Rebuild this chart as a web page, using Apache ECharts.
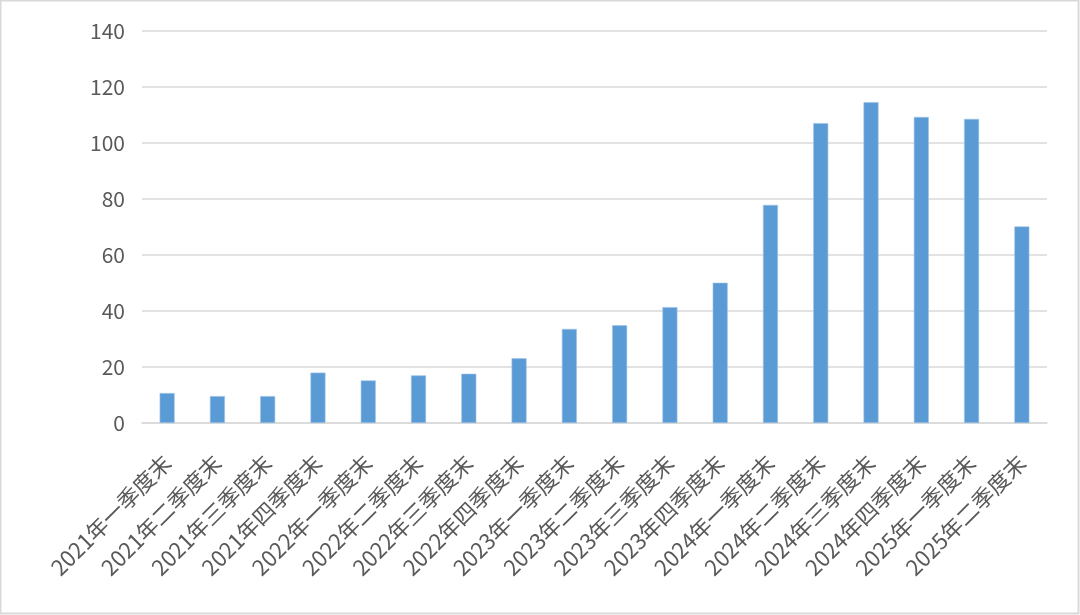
<!DOCTYPE html>
<html><head><meta charset="utf-8">
<script src="https://cdn.jsdelivr.net/npm/echarts@6/dist/echarts.min.js"></script>
<style>html,body{margin:0;padding:0;background:#fff}#c{width:1080px;height:615px}</style>
</head><body><div id="c"></div>
<script>
const categories = ['2021年一季度末','2021年二季度末','2021年三季度末','2021年四季度末','2022年一季度末','2022年二季度末','2022年三季度末','2022年四季度末','2023年一季度末','2023年二季度末','2023年三季度末','2023年四季度末','2024年一季度末','2024年二季度末','2024年三季度末','2024年四季度末','2025年一季度末','2025年二季度末'];
const values = [10.7, 9.6, 9.6, 18.0, 15.2, 17.0, 17.6, 23.1, 33.6, 34.9, 41.4, 50.1, 77.9, 107.1, 114.6, 109.3, 108.6, 70.2];
const chart = echarts.init(document.getElementById('c'));
chart.setOption({
  backgroundColor: '#fff',
  animation: false,
  graphic: [{type:'rect', shape:{x:0.5,y:0.5,width:1078,height:613}, style:{fill:'none', stroke:'#d9d9d9', lineWidth:2}, silent:true}],
  grid: {left: 142, right: 33, top: 31, bottom: 192},
  xAxis: {
    type: 'category', data: categories,
    axisLine: {lineStyle: {color: '#d9d9d9', width: 1.5}},
    axisTick: {show: false},
    axisLabel: {rotate: 45, interval: 0, margin: 36, color: '#595959', fontSize: 22, fontFamily: 'Noto Sans CJK SC'}
  },
  yAxis: {
    type: 'value', min: 0, max: 140, interval: 20,
    axisLine: {show: false}, axisTick: {show: false},
    splitLine: {lineStyle: {color: '#d9d9d9', width: 1.5}},
    axisLabel: {color: '#595959', fontSize: 21, margin: 17, fontFamily: 'Noto Sans CJK SC'}
  },
  series: [{
    type: 'bar', data: values, barWidth: 15,
    itemStyle: {color: '#5b9bd5', borderColor: '#9dc3e6', borderWidth: 0.6}
  }]
});
</script></body></html>
